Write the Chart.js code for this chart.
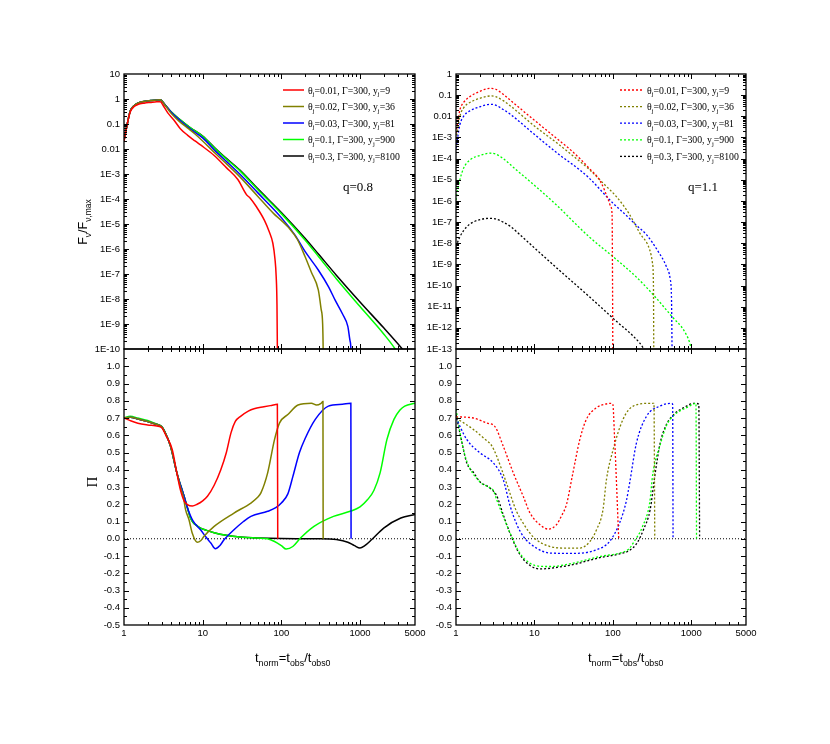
<!DOCTYPE html>
<html>
<head>
<meta charset="utf-8">
<script src="https://cdn.jsdelivr.net/npm/chart.js@4.4.1/dist/chart.umd.min.js"></script>
<style>
  body { margin: 0; background: #fff; }
  #wrap { position: relative; width: 830px; height: 744px; }
  #wrap canvas { position: absolute; left: 0; top: 0; }
</style>
</head>
<body>
<div id="wrap">
  <canvas id="fluxLeft" width="830" height="744"></canvas>
  <canvas id="fluxRight" width="830" height="744"></canvas>
  <canvas id="piLeft" width="830" height="744"></canvas>
  <canvas id="piRight" width="830" height="744"></canvas>
</div>
<script>
// legend text pieces
const thetaJ = ['0.01', '0.02', '0.03', '0.1', '0.3']
const yJ = ['9', '36', '81', '900', '8100']
const gammaVal = '300'
const colors = ['#ff0000', '#808000', '#0000ff', '#00ff00', '#000000']

// x axis tick labels (t_norm)
const xTickVals = [1, 10, 100, 1000, 5000]

// flux, q = 0.8  ([t, F/Fmax])
const fluxLeftRed = [[1,0.02],[1.1,0.1],[1.2,0.3],[1.35,0.5],[1.5,0.6],[1.8,0.68],[2.2,0.73],[2.6,0.77],[2.9,0.78],[3.2,0.5],[3.6,0.28],[4.3,0.145],[5.2,0.065],[6.4,0.036],[8,0.021],[9.4,0.0145],[14,5.5e-3],[20,1.8e-3],[28,6e-4],[36,1.5e-4],[40,1.1e-4],[48,5e-5],[61,1.4e-5],[70,5e-6],[78,1.7e-6],[83,4e-7],[86,8e-8],[88,6e-9],[89,1e-10],[89.5,1e-11]]
const fluxLeftOlive = [[1,0.022],[1.1,0.1],[1.2,0.33],[1.35,0.55],[1.5,0.68],[1.8,0.8],[2.2,0.87],[2.6,0.92],[2.9,0.93],[3.3,0.58],[4,0.26],[5,0.13],[6.4,0.07],[8,0.04],[10,0.021],[15,6e-3],[20,2.6e-3],[30,7.5e-4],[50,1.3e-4],[80,2.6e-5],[100,1.4e-5],[122,7.5e-6],[160,2.4e-6],[200,5e-7],[240,1.2e-7],[295,2.3e-8],[320,4e-9],[335,1e-9],[340,1e-10],[342,1e-11]]
const fluxLeftBlue = [[1,0.022],[1.1,0.1],[1.2,0.33],[1.35,0.55],[1.5,0.68],[1.8,0.8],[2.2,0.87],[2.6,0.92],[2.9,0.93],[3.3,0.6],[4,0.29],[5,0.15],[7,0.062],[10,0.028],[15,7.5e-3],[20,3.2e-3],[30,9.5e-4],[50,1.8e-4],[100,1.8e-5],[150,3.5e-6],[200,8e-7],[295,1.45e-7],[400,3e-8],[483,9e-9],[600,2.5e-9],[700,8e-10],[750,2e-10],[765,1e-10],[770,1e-11]]
const fluxLeftGreen = [[1,0.022],[1.1,0.1],[1.2,0.33],[1.35,0.55],[1.5,0.68],[1.8,0.8],[2.2,0.87],[2.6,0.92],[2.9,0.93],[3.3,0.6],[4,0.3],[5,0.16],[7,0.07],[10,0.032],[15,9e-3],[20,4e-3],[30,1.3e-3],[50,2.4e-4],[100,2.6e-5],[200,2.3e-6],[300,4.8e-7],[500,6.5e-8],[1000,5e-9],[2000,4e-10],[2800,1e-10],[3500,3e-11]]
const fluxLeftBlack = [[1,0.022],[1.1,0.1],[1.2,0.33],[1.35,0.55],[1.5,0.68],[1.8,0.8],[2.2,0.87],[2.6,0.92],[2.9,0.93],[3.3,0.6],[4,0.3],[5,0.16],[7,0.07],[10,0.033],[15,9.5e-3],[20,4.2e-3],[30,1.4e-3],[50,2.6e-4],[100,2.9e-5],[200,2.7e-6],[300,6e-7],[500,9e-8],[1000,7.6e-9],[2000,7e-10],[3450,1e-10],[4500,3.5e-11]]

// flux, q = 1.1
const fluxRightRed = [[1,1.6e-3],[1.05,5e-3],[1.12,0.02],[1.25,0.045],[1.5,0.085],[2,0.15],[2.7,0.21],[3.2,0.19],[4,0.11],[5,0.055],[10,6.5e-3],[20,8e-4],[30,2.3e-4],[50,3.5e-5],[70,8e-6],[87,1.2e-6],[95,5e-7],[98,2e-7],[99,1e-9],[100,1e-13]]
const fluxRightOlive = [[1,8e-4],[1.05,2.5e-3],[1.12,0.01],[1.25,0.025],[1.5,0.045],[2,0.07],[2.8,0.092],[3.2,0.085],[4,0.055],[5,0.03],[10,3.5e-3],[20,5e-4],[30,1.5e-4],[51,2.9e-5],[80,5.5e-6],[111,1.6e-6],[160,2.6e-7],[221,3e-8],[296,4.8e-9],[320,1.2e-9],[330,1e-10],[333,1e-13]]
const fluxRightBlue = [[1,3e-4],[1.05,1e-3],[1.12,4e-3],[1.25,0.01],[1.5,0.018],[2,0.028],[2.8,0.037],[3.2,0.034],[4,0.021],[5,0.012],[10,1.4e-3],[20,1.7e-4],[38,2.9e-5],[50,1.2e-5],[101,7.7e-7],[150,2e-7],[200,7e-8],[270,2.5e-8],[380,4e-9],[483,7.8e-10],[540,2e-10],[560,3e-11],[570,1e-13]]
const fluxRightGreen = [[1,1.1e-6],[1.05,3.5e-6],[1.12,1e-5],[1.25,3.5e-5],[1.5,8.5e-5],[2,1.4e-4],[2.7,1.8e-4],[3.2,1.65e-4],[4,1e-4],[5.9,2.9e-5],[10,5.5e-6],[20,5.5e-7],[31,1.1e-7],[50,2e-8],[101,2.3e-9],[200,2.5e-10],[360,2.5e-11],[500,6e-12],[587,3e-12],[800,8e-13],[956,2e-13],[1000,1e-13]]
const fluxRightBlack = [[1,7e-9],[1.12,2e-8],[1.37,6e-8],[1.66,1e-7],[2.1,1.35e-7],[2.6,1.5e-7],[3.2,1.4e-7],[4,1e-7],[5,6e-8],[7,2e-8],[10.7,4.8e-9],[20,6e-10],[50,3e-11],[101,2.8e-12],[221,1.9e-13],[250,1e-13],[280,6e-14]]

// polarization, q = 0.8  ([t, Pi])
const piLeftRed = [[1,0.70],[1.2,0.685],[1.5,0.67],[2,0.66],[2.5,0.655],[3,0.645],[3.4,0.6],[4.1,0.517],[4.7,0.38],[5.2,0.285],[5.8,0.22],[6.4,0.198],[7.4,0.19],[8.5,0.2],[10,0.22],[11.5,0.246],[14,0.31],[17,0.40],[20,0.5],[22.9,0.614],[26,0.68],[30.6,0.711],[38,0.74],[45,0.754],[60,0.765],[75,0.773],[89,0.779],[90,0.0]]
const piLeftOlive = [[1,0.70],[1.2,0.705],[1.5,0.695],[2,0.68],[2.5,0.665],[3,0.65],[3.3,0.62],[3.9,0.537],[4.7,0.382],[5.2,0.3],[5.7,0.24],[6.05,0.17],[6.7,0.11],[7.4,0.03],[8.5,-0.02],[9.5,-0.01],[10.4,0.014],[14,0.072],[25,0.149],[41,0.207],[50,0.24],[55,0.266],[67,0.382],[82,0.576],[95,0.672],[121,0.72],[163,0.775],[241,0.785],[280,0.775],[320,0.785],[338,0.795],[340,0.0]]
const piLeftBlue = [[1,0.70],[1.2,0.705],[1.5,0.695],[2,0.68],[2.5,0.665],[3,0.65],[3.3,0.62],[3.9,0.537],[4.7,0.382],[5.8,0.246],[6.4,0.18],[7.5,0.105],[9.4,0.052],[11,0.01],[12.7,-0.025],[14.5,-0.058],[16.5,-0.04],[18.7,-0.006],[25,0.052],[33,0.1],[41,0.13],[67,0.159],[85,0.18],[100,0.207],[121,0.26],[140,0.36],[170,0.5],[200,0.58],[270,0.692],[396,0.769],[600,0.78],[765,0.785],[770,0.0]]
const piLeftGreen = [[1,0.70],[1.2,0.71],[1.5,0.70],[2,0.685],[2.5,0.668],[3,0.652],[3.3,0.622],[3.9,0.537],[4.7,0.382],[5.8,0.246],[6.4,0.18],[7,0.12],[7.7,0.09],[8.5,0.075],[9.4,0.062],[11,0.05],[14,0.035],[20,0.02],[30,0.01],[50,0.004],[67,0.0],[82,-0.016],[100,-0.04],[115,-0.06],[140,-0.045],[175,0.004],[260,0.072],[460,0.13],[750,0.159],[1000,0.185],[1250,0.227],[1500,0.28],[1800,0.382],[2200,0.576],[2700,0.692],[3200,0.745],[3700,0.769],[5000,0.785]]
const piLeftBlack = [[1,0.70],[1.2,0.705],[1.5,0.695],[2,0.68],[2.5,0.665],[3,0.65],[3.3,0.62],[3.9,0.537],[4.7,0.382],[5.8,0.246],[6.4,0.18],[7,0.12],[7.7,0.09],[8.5,0.075],[9.4,0.062],[11,0.05],[14,0.035],[20,0.02],[30,0.01],[50,0.004],[100,0.001],[300,0.0],[500,-0.005],[700,-0.02],[850,-0.04],[1000,-0.054],[1150,-0.04],[1400,-0.006],[2000,0.062],[3300,0.12],[5000,0.14]]

// polarization, q = 1.1
const piRightRed = [[1,0.707],[1.66,0.70],[2.5,0.67],[3.14,0.65],[4.0,0.537],[5.4,0.38],[7.2,0.246],[8.8,0.149],[11.8,0.081],[15,0.056],[19.1,0.081],[22,0.13],[25.7,0.2],[31,0.382],[38,0.576],[46,0.692],[62,0.76],[80,0.78],[96,0.785],[100,0.78],[105,0.6],[112,0.3],[117,0.08],[119,0.0]]
const piRightOlive = [[1,0.70],[1.66,0.634],[2.3,0.58],[2.85,0.54],[3.3,0.479],[4.4,0.323],[5.9,0.16],[7.2,0.09],[8.5,0.04],[10.6,-0.006],[15.8,-0.045],[23.3,-0.054],[38,-0.054],[51,-0.016],[62,0.052],[75,0.169],[83,0.343],[101,0.517],[135,0.692],[182,0.769],[295,0.785],[335,0.785],[343,0.0]]
const piRightBlue = [[1,0.70],[1.37,0.576],[2.02,0.498],[2.99,0.44],[4.0,0.343],[4.9,0.19],[6,0.08],[7.2,0.014],[10.6,-0.054],[15.8,-0.083],[31,-0.085],[62,-0.064],[91,-0.016],[122,0.091],[149,0.22],[165,0.33],[199,0.55],[270,0.711],[398,0.769],[556,0.785],[580,0.78],[587,0.0]]
const piRightGreen = [[1,0.75],[1.2,0.55],[1.37,0.45],[2.02,0.33],[2.6,0.3],[2.99,0.28],[3.3,0.227],[4.0,0.13],[4.9,0.033],[6.5,-0.083],[8.8,-0.142],[12,-0.16],[15.8,-0.161],[31,-0.142],[68,-0.103],[122,-0.083],[160,-0.06],[182,-0.025],[240,0.072],[295,0.207],[325,0.382],[398,0.537],[480,0.653],[587,0.711],[950,0.769],[1040,0.779],[1150,0.785],[1170,0.0]]
const piRightBlack = [[1,0.72],[1.2,0.55],[1.37,0.44],[1.7,0.38],[2.02,0.33],[2.6,0.3],[3.3,0.25],[4.0,0.14],[4.9,0.03],[6.5,-0.09],[8.8,-0.155],[12,-0.175],[20,-0.165],[31,-0.15],[68,-0.11],[122,-0.088],[160,-0.07],[200,-0.03],[250,0.06],[300,0.17],[340,0.35],[400,0.55],[480,0.66],[600,0.72],[800,0.76],[1100,0.785],[1250,0.78],[1280,0.0]]

const zeroLine = [[1, 0], [5000, 0]]

const SANS = '"Liberation Sans", Arial, sans-serif'
const SERIF = '"Liberation Serif", "Times New Roman", serif'
const Y_W = 40
const X_H = 20

// text with subscripts: segs = [[text, isSub], ...]
function drawRich(ctx, segs, x, y, size, family, align) {
  const sub = size * 0.68
  let w = 0
  segs.forEach(([t, s]) => { ctx.font = (s ? sub : size) + 'px ' + family; w += ctx.measureText(t).width })
  let cx = align === 'center' ? x - w / 2 : x
  ctx.textAlign = 'left'
  ctx.textBaseline = 'alphabetic'
  segs.forEach(([t, s]) => {
    ctx.font = (s ? sub : size) + 'px ' + family
    ctx.fillText(t, cx, s ? y + size * 0.3 : y)
    cx += ctx.measureText(t).width
  })
}

function logMinors(lo, hi) {
  let out = []
  for (let d = Math.floor(Math.log10(lo)); d <= Math.ceil(Math.log10(hi)); d++) {
    for (let k = 2; k <= 9; k++) {
      let v = k * Math.pow(10, d)
      if (v > lo && v < hi) out.push(v)
    }
  }
  return out
}
function logMajors(lo, hi) {
  let out = []
  for (let d = Math.floor(Math.log10(lo)); d <= Math.ceil(Math.log10(hi)); d++) {
    let v = Math.pow(10, d)
    if (v > lo * 1.0001 && v < hi * 0.9999) out.push(v)
  }
  return out
}

// inward ticks on all four sides plus the frame
const frameTicks = {
  id: 'frameTicks',
  afterDraw(chart, args, o) {
    const { ctx, chartArea: a } = chart
    const sx = chart.scales.x, sy = chart.scales.y
    ctx.save()
    ctx.strokeStyle = '#000'
    ctx.lineWidth = 1
    ctx.beginPath()
    const xs = (list, len) => list.forEach(v => {
      const p = Math.round(sx.getPixelForValue(v)) + 0.5
      ctx.moveTo(p, a.top); ctx.lineTo(p, a.top + len)
      ctx.moveTo(p, a.bottom); ctx.lineTo(p, a.bottom - len)
    })
    const ys = (list, len) => list.forEach(v => {
      const p = Math.round(sy.getPixelForValue(v)) + 0.5
      ctx.moveTo(a.left, p); ctx.lineTo(a.left + len, p)
      ctx.moveTo(a.right, p); ctx.lineTo(a.right - len, p)
    })
    xs(o.xMajor, 5); xs(o.xMinor, 3)
    ys(o.yMajor, 5); ys(o.yMinor, 3)
    ctx.stroke()
    ctx.lineWidth = 1.3
    ctx.strokeRect(a.left, a.top, a.right - a.left, a.bottom - a.top)
    ctx.restore()
  }
}

// legend with subscripts, plus free texts
const notes = {
  id: 'notes',
  afterDraw(chart, args, o) {
    const ctx = chart.ctx
    ctx.save()
    ctx.fillStyle = '#000'
    if (o.legend) {
      const L = o.legend
      thetaJ.forEach((th, i) => {
        const ds = chart.data.datasets[i]
        const y = L.y + i * L.step
        ctx.save()
        ctx.strokeStyle = ds.borderColor
        ctx.lineWidth = ds.borderWidth
        ctx.setLineDash(ds.borderDash || [])
        ctx.beginPath(); ctx.moveTo(L.x1, y); ctx.lineTo(L.x2, y); ctx.stroke()
        ctx.restore()
        drawRich(ctx, [['θ', 0], ['j', 1], ['=' + th + ', Γ=' + gammaVal + ', y', 0], ['j', 1], ['=' + yJ[i], 0]], L.tx, y + 3.5, 9.8, SERIF, 'left')
      })
    }
    (o.texts || []).forEach(t => {
      ctx.save()
      ctx.translate(t.x, t.y)
      if (t.rot) ctx.rotate(-Math.PI / 2)
      drawRich(ctx, t.segs, 0, 0, t.size, t.family, t.align || 'center')
      ctx.restore()
    })
    ctx.restore()
  }
}

function series(list, i, dotted) {
  return {
    data: list.map(([x, y]) => ({ x: x, y: y })),
    borderColor: colors[i],
    borderWidth: dotted ? 1.3 : 1.5,
    borderDash: dotted ? [2, 2] : [],
    pointRadius: 0,
    fill: false,
    cubicInterpolationMode: 'monotone',
    clip: 0
  }
}

function makePanel(id, box, datasets, yCfg, showX, pluginOpts) {
  const tickFont = { family: SANS, size: 9.5 }
  new Chart(document.getElementById(id), {
    type: 'line',
    data: { datasets: datasets },
    options: {
      responsive: false,
      animation: false,
      events: [],
      layout: { padding: { left: box.left - Y_W, top: box.top, right: 830 - box.right, bottom: 744 - box.bottom - (showX ? X_H : 0) } },
      scales: {
        x: {
          type: 'logarithmic', min: 1, max: 5000,
          afterFit: s => { s.height = showX ? X_H : 0 },
          afterBuildTicks: s => { s.ticks = xTickVals.map(v => ({ value: v })) },
          ticks: { display: showX, autoSkip: false, maxRotation: 0, padding: 3, color: '#000', font: tickFont, callback: v => String(v) },
          grid: { display: false, drawTicks: false },
          border: { display: false }
        },
        y: {
          type: yCfg.type, min: yCfg.min, max: yCfg.max,
          afterFit: s => { s.width = Y_W },
          afterBuildTicks: s => { s.ticks = yCfg.labels.map(v => ({ value: v })) },
          ticks: { autoSkip: false, padding: 4, color: '#000', font: tickFont, callback: yCfg.fmt },
          grid: { display: false, drawTicks: false },
          border: { display: false }
        }
      },
      plugins: {
        legend: { display: false },
        tooltip: { enabled: false },
        frameTicks: pluginOpts.frame,
        notes: pluginOpts.notes
      }
    },
    plugins: [frameTicks, notes]
  })
}

const logFmt = v => {
  const e = Math.round(Math.log10(v))
  return e >= -2 ? String(Number(v.toPrecision(1))) : '1E' + e
}
const linFmt = v => (Math.abs(v) < 1e-9 ? 0 : v).toFixed(1)
const decades = (a, b) => { let out = []; for (let e = a; e <= b; e++) out.push(Math.pow(10, e)); return out }
const piLabels = []
for (let i = -5; i <= 10; i++) piLabels.push(i / 10)
const piMinor = []
for (let i = -5; i <= 10; i++) piMinor.push((i + 0.5) / 10)

const xMajorInner = [10, 100, 1000]
const xMinorAll = logMinors(1, 5000)

const boxes = {
  fluxLeft: { left: 124, right: 415, top: 74, bottom: 349 },
  fluxRight: { left: 456, right: 746, top: 74, bottom: 349 },
  piLeft: { left: 124, right: 415, top: 349, bottom: 625 },
  piRight: { left: 456, right: 746, top: 349, bottom: 625 }
}

const xTitle = [['t', 0], ['norm', 1], ['=t', 0], ['obs', 1], ['/t', 0], ['obs0', 1]]

makePanel('fluxLeft', boxes.fluxLeft,
  [fluxLeftRed, fluxLeftOlive, fluxLeftBlue, fluxLeftGreen, fluxLeftBlack].map((d, i) => series(d, i, false)),
  { type: 'logarithmic', min: 1e-10, max: 10, labels: decades(-10, 1), fmt: logFmt }, false,
  {
    frame: { xMajor: xMajorInner, xMinor: xMinorAll, yMajor: logMajors(1e-10, 10), yMinor: logMinors(1e-10, 10) },
    notes: {
      legend: { x1: 283, x2: 304, tx: 308, y: 90, step: 16.5 },
      texts: [
        { segs: [['q=0.8', 0]], x: 343, y: 191, size: 13, family: SERIF, align: 'left' },
        { segs: [['F', 0], ['ν', 1], ['/F', 0], ['ν,max', 1]], x: 87, y: 222, size: 12.5, family: SANS, rot: true }
      ]
    }
  })

makePanel('fluxRight', boxes.fluxRight,
  [fluxRightRed, fluxRightOlive, fluxRightBlue, fluxRightGreen, fluxRightBlack].map((d, i) => series(d, i, true)),
  { type: 'logarithmic', min: 1e-13, max: 1, labels: decades(-13, 0), fmt: logFmt }, false,
  {
    frame: { xMajor: xMajorInner, xMinor: xMinorAll, yMajor: logMajors(1e-13, 1), yMinor: logMinors(1e-13, 1) },
    notes: {
      legend: { x1: 620, x2: 643, tx: 647, y: 90, step: 16.6 },
      texts: [
        { segs: [['q=1.1', 0]], x: 688, y: 191, size: 13, family: SERIF, align: 'left' }
      ]
    }
  })

const piLeftSets = [piLeftRed, piLeftOlive, piLeftBlue, piLeftGreen, piLeftBlack].map((d, i) => series(d, i, false))
piLeftSets.push({ data: zeroLine.map(([x, y]) => ({ x: x, y: y })), borderColor: '#000', borderWidth: 1, borderDash: [1, 2], pointRadius: 0, clip: 0 })
makePanel('piLeft', boxes.piLeft, piLeftSets,
  { type: 'linear', min: -0.5, max: 1.1, labels: piLabels, fmt: linFmt }, true,
  {
    frame: { xMajor: xMajorInner, xMinor: xMinorAll, yMajor: piLabels.concat([1.1]).filter(v => v > -0.5 && v < 1.1), yMinor: piMinor },
    notes: {
      texts: [
        { segs: [['Π', 0]], x: 97, y: 482, size: 15, family: SERIF, rot: true },
        { segs: xTitle, x: 255, y: 662, size: 13, family: SANS, align: 'left' }
      ]
    }
  })

const piRightSets = [piRightRed, piRightOlive, piRightBlue, piRightGreen, piRightBlack].map((d, i) => series(d, i, true))
piRightSets.push({ data: zeroLine.map(([x, y]) => ({ x: x, y: y })), borderColor: '#000', borderWidth: 1, borderDash: [1, 2], pointRadius: 0, clip: 0 })
makePanel('piRight', boxes.piRight, piRightSets,
  { type: 'linear', min: -0.5, max: 1.1, labels: piLabels, fmt: linFmt }, true,
  {
    frame: { xMajor: xMajorInner, xMinor: xMinorAll, yMajor: piLabels.concat([1.1]).filter(v => v > -0.5 && v < 1.1), yMinor: piMinor },
    notes: {
      texts: [
        { segs: xTitle, x: 588, y: 662, size: 13, family: SANS, align: 'left' }
      ]
    }
  })
</script>
</body>
</html>
